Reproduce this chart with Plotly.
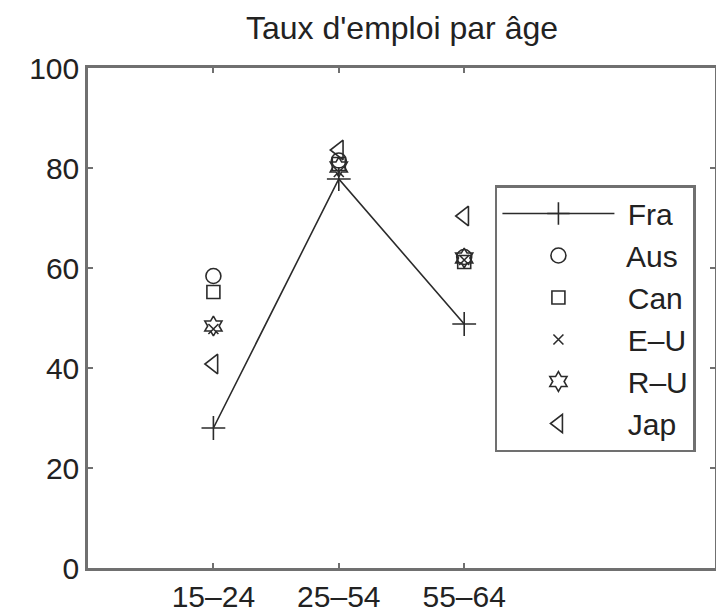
import plotly.graph_objects as go

categories = ["15–24", "25–54", "55–64"]
fra = [28, 77.8, 48.8]
aus = [58.4, 81.5, 62.2]
can = [55.2, 80.8, 61.2]
eu = [47.8, 79.2, 61.6]
ru = [48.4, 80.2, 62.0]
jap = [40.8, 83.6, 70.4]

ink = "#2b2b2b"
font_family = "Liberation Sans, Arial, sans-serif"
fig = go.Figure()
fig.add_trace(go.Scatter(x=categories, y=fra, name=" Fra", mode="lines+markers",
                         line=dict(color=ink, width=1.6),
                         marker=dict(symbol="cross-thin", size=17, line=dict(color=ink, width=1.6)),
                         legendgroup="a"))
specs = [("Aus", aus, "circle-open", 15), ("Can", can, "square-open", 13),
         ("E–U", eu, "x-thin", 10), ("R–U", ru, "hexagram-open", 15),
         ("Jap", jap, "triangle-left-open", 17)]
for i, (nm, vals, sym, sz) in enumerate(specs):
    fig.add_trace(go.Scatter(x=categories, y=vals, name=" " + nm, mode="markers",
                             marker=dict(symbol=sym, size=sz, color=ink,
                                         line=dict(color=ink, width=1.6)),
                             legendgroup=f"g{i}"))

axis_common = dict(showline=True, linecolor="#707070", linewidth=2.5, mirror="ticks",
                   ticks="inside", ticklen=5, tickcolor="#707070", tickwidth=1.5,
                   showgrid=False, zeroline=False, automargin=False,
                   tickfont=dict(family=font_family, size=30, color="#222"))
fig.update_xaxes(type="category", range=[-1, 4], **axis_common)
fig.update_yaxes(range=[0, 100], tickvals=[0, 20, 40, 60, 80, 100], **axis_common)

fig.update_layout(
    width=724, height=615,
    margin=dict(l=80, r=17, t=60, b=55),
    plot_bgcolor="white", paper_bgcolor="white",
    title=dict(text="Taux d'emploi par âge", x=394 / 724, xanchor="center",
               y=1 - 20 / 615, yanchor="middle", yref="container", automargin=False,
               font=dict(family=font_family, size=32, color="#222")),
    legend=dict(x=0.649, y=0.766, xanchor="left", yanchor="top",
                bordercolor="#707070", borderwidth=2.5, bgcolor="white",
                font=dict(family=font_family, size=30, color="#222"),
                tracegroupgap=0, traceorder="grouped", itemwidth=112),
)
fig.write_html("out.html")
